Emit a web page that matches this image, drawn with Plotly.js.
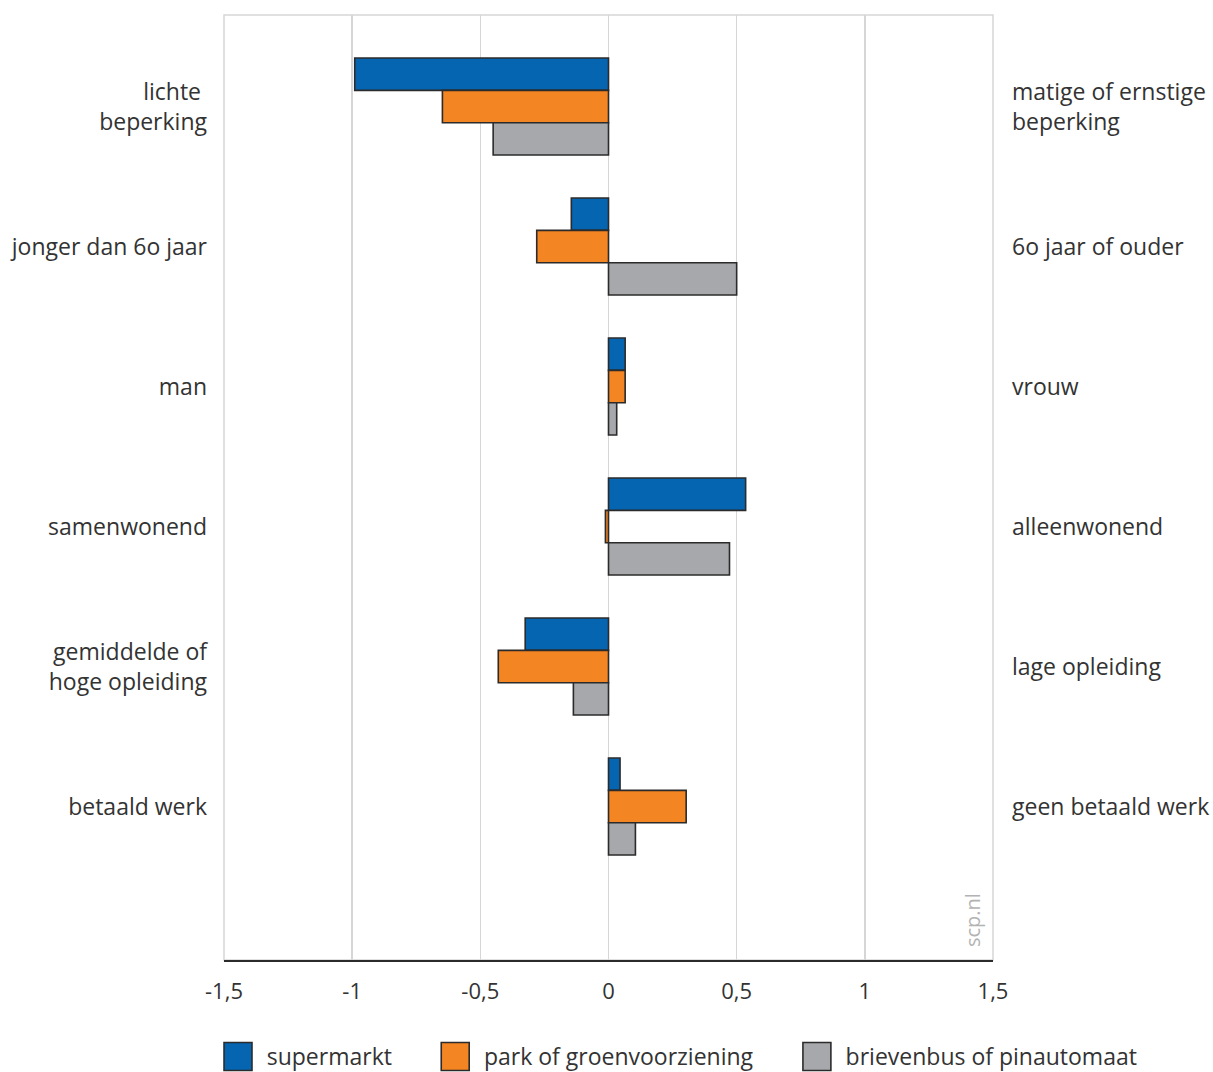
<!DOCTYPE html>
<html>
<head>
<meta charset="utf-8">
<script src="https://cdn.plot.ly/plotly-3.0.1.min.js"></script>
<style>
  html, body { margin: 0; padding: 0; background: #ffffff; }
  #chart { width: 1213px; height: 1072px; }
  .legend .legendpoints path { transform-box: fill-box; transform-origin: center; transform: translate(58.3px, 0px) scale(2.33); vector-effect: non-scaling-stroke; }
</style>
</head>
<body>
<div id="chart"></div>
<script>
// ---- data ----
const leftLabels = ['lichte <br>beperking', 'jonger dan 6o jaar', 'man', 'samenwonend', 'gemiddelde of<br>hoge opleiding', 'betaald werk'];
const rightLabels = ['matige of ernstige<br>beperking', '6o jaar of ouder', 'vrouw', 'alleenwonend', 'lage opleiding', 'geen betaald werk'];
const categoryIndex = [0, 1, 2, 3, 4, 5];

const seriesNames = ['supermarkt', 'park of groenvoorziening', 'brievenbus of pinautomaat'];
const supermarkt = [-0.99, -0.145, 0.065, 0.535, -0.325, 0.045];
const park = [-0.648, -0.28, 0.065, -0.012, -0.43, 0.303];
const brievenbus = [-0.45, 0.50, 0.032, 0.472, -0.137, 0.105];

const xTickVals = [-1.5, -1, -0.5, 0, 0.5, 1, 1.5];
const xTickText = ['-1,5', '-1', '-0,5', '0', '0,5', '1', '1,5'];

// ---- styling ----
const colors = ['#0565b1', '#f38522', '#a7a8ab'];
const outline = '#2b2b2b';
const font = 'Open Sans, Noto Sans, sans-serif';
const textColor = '#333333';

const seriesValues = [supermarkt, park, brievenbus];
const traces = seriesValues.map((vals, i) => ({
  type: 'bar',
  orientation: 'h',
  name: seriesNames[i],
  x: vals,
  y: categoryIndex,
  marker: { color: colors[i], line: { color: outline, width: 1.6 } },
  hoverinfo: 'x+name'
}));

// helper trace so the right-hand axis is drawn
traces.push({
  type: 'scatter',
  mode: 'none',
  x: supermarkt,
  y: categoryIndex,
  yaxis: 'y2',
  showlegend: false,
  hoverinfo: 'skip'
});

const yRange = [6.096, -0.654];

const layout = {
  width: 1213,
  height: 1072,
  margin: { l: 224, r: 220, t: 15, b: 112, pad: 0, autoexpand: false },
  paper_bgcolor: '#ffffff',
  plot_bgcolor: '#ffffff',
  font: { family: font, size: 23, color: textColor },
  barmode: 'group',
  bargap: 0.307,
  bargroupgap: 0,
  showlegend: true,
  legend: {
    orientation: 'h',
    x: -0.0576, xanchor: 'left',
    y: -0.0794, yanchor: 'top',
    itemwidth: 77,
    traceorder: 'normal',
    font: { family: font, size: 23, color: textColor },
    bgcolor: 'rgba(0,0,0,0)'
  },
  xaxis: {
    range: [-1.5, 1.5],
    tickmode: 'array',
    tickvals: xTickVals,
    ticktext: xTickText,
    showgrid: true,
    gridcolor: '#d6d6d6',
    gridwidth: 1.5,
    zeroline: false,
    showline: true,
    linecolor: '#2b2b2b',
    linewidth: 2,
    ticks: '',
    ticklabelstandoff: 11,
    tickfont: { family: font, size: 22, color: textColor },
    automargin: false,
    fixedrange: true
  },
  yaxis: {
    range: yRange,
    tickmode: 'array',
    tickvals: categoryIndex,
    ticktext: leftLabels,
    showgrid: false,
    zeroline: false,
    showline: false,
    ticks: '',
    ticklabelstandoff: 16,
    tickfont: { family: font, size: 23, color: textColor },
    automargin: false,
    fixedrange: true
  },
  yaxis2: {
    overlaying: 'y',
    side: 'right',
    range: yRange,
    tickmode: 'array',
    tickvals: categoryIndex,
    ticktext: rightLabels,
    showgrid: false,
    zeroline: false,
    showline: false,
    ticks: '',
    ticklabelstandoff: 18,
    tickfont: { family: font, size: 23, color: textColor },
    automargin: false,
    fixedrange: true
  },
  shapes: [{
    type: 'rect', xref: 'paper', yref: 'paper',
    x0: 0, x1: 1, y0: 0, y1: 1,
    line: { color: '#d6d6d6', width: 1.5 },
    layer: 'below'
  }],
  annotations: [{
    text: 'scp.nl',
    xref: 'paper', yref: 'paper',
    x: 0.9935, y: 0.011,
    xanchor: 'right', yanchor: 'bottom',
    textangle: -90,
    showarrow: false,
    font: { family: font, size: 20, color: '#b3b3b3' }
  }]
};

Plotly.newPlot('chart', traces, layout, { displayModeBar: false, staticPlot: true });
</script>
</body>
</html>
